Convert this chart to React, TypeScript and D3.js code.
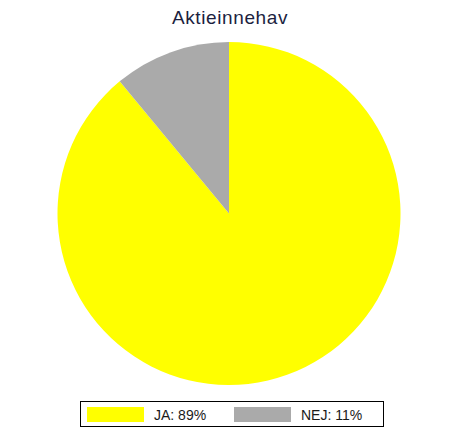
import React from 'react';
import * as d3 from 'd3';

const categories = ['JA', 'NEJ'];
const shares = [89, 11];
const chartTitle = 'Aktieinnehav';

const WIDTH = 464;
const HEIGHT = 440;

interface Slice {
  label: string;
  value: number;
}

const slices: Slice[] = categories.map((c, i) => ({ label: c, value: shares[i] }));

const App: React.FC = () => {
  const cx = 229;
  const cy = 213.5;
  const radius = 171.5;

  const color = d3.scaleOrdinal<string, string>()
    .domain(categories)
    .range(['#ffff00', '#aaaaaa']);

  const pie = d3.pie<Slice>()
    .value(d => d.value)
    .sort(null);

  const arc = d3.arc<d3.PieArcDatum<Slice>>()
    .innerRadius(0)
    .outerRadius(radius);

  const arcs = pie(slices);

  // legend layout
  const legendX = d3.scalePoint<string>()
    .domain(categories)
    .range([87, 234]);

  return (
    <svg
      width={WIDTH}
      height={HEIGHT}
      style={{ position: 'absolute', left: 0, top: 0, background: '#ffffff' }}
      fontFamily="'Liberation Sans', Arial, sans-serif"
    >
      <text
        x={230}
        y={24}
        textAnchor="middle"
        fontSize={19}
        letterSpacing={0.6}
        fill="#1c1f3f"
      >
        {chartTitle}
      </text>

      <g transform={`translate(${cx},${cy})`}>
        {arcs.map(a => (
          <path key={a.data.label} d={arc(a) || ''} fill={color(a.data.label)} />
        ))}
      </g>

      <rect x={80.5} y={401.5} width={303} height={25} fill="#ffffff" stroke="#000000" strokeWidth={1} />
      {slices.map(s => (
        <g key={s.label}>
          <rect x={legendX(s.label)} y={407} width={57} height={15} fill={color(s.label)} />
          <text x={(legendX(s.label) || 0) + 67} y={420} fontSize={14} fill="#1a1a1a">
            {`${s.label}: ${s.value}%`}
          </text>
        </g>
      ))}
    </svg>
  );
};

export default App;
